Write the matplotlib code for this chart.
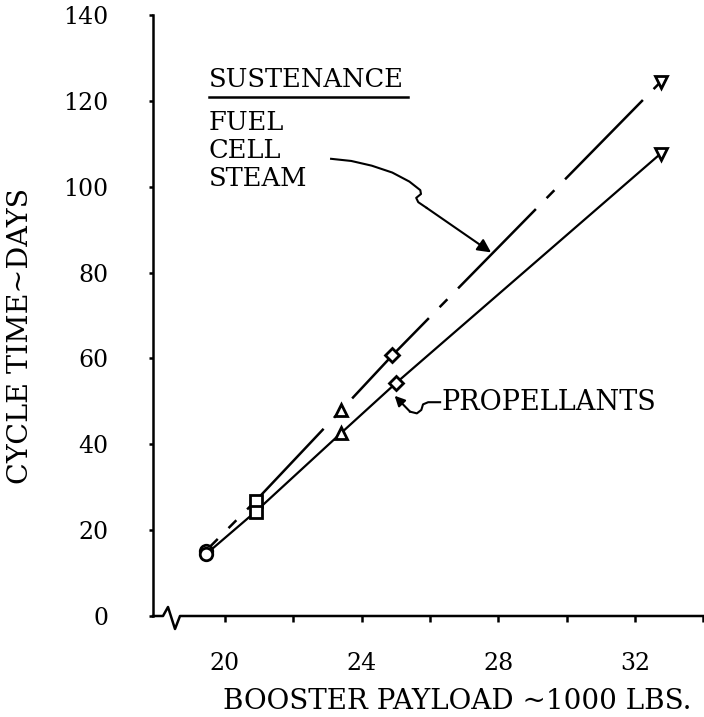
import numpy as np
import matplotlib
matplotlib.use("Agg")
import matplotlib.pyplot as plt

# values
payload_sust = [19.45, 20.9, 23.4, 24.9, 32.75]
days_sust = [15.2, 26.8, 47.9, 60.7, 124.4]
payload_prop = [19.45, 20.9, 23.4, 25.0, 32.75]
days_prop = [14.4, 24.3, 42.6, 54.2, 107.7]
point_markers = ["o", "s", "^", "D", "v"]

x_major = [20, 24, 28, 32]
x_minor = [22, 26, 30, 34]
y_ticks = [0, 20, 40, 60, 80, 100, 120, 140]

plt.rcParams["font.family"] = "DejaVu Serif"
plt.rcParams["lines.scale_dashes"] = False

fig = plt.figure(figsize=(7.04, 7.17), dpi=100)
ax = fig.add_axes([153 / 704, 101 / 717, 551 / 704, 601 / 717])
ax.set_xlim(17.9, 34.02)
ax.set_ylim(0, 140)

# sustenance (long dash - short dash) and propellants (solid)
ax.plot(payload_sust, days_sust, color="black", lw=1.8,
        linestyle=(68, (80, 11, 8, 11)), zorder=2)
ax.plot(payload_prop, days_prop, color="black", lw=1.6, zorder=2)
for xs, ys in [(payload_sust, days_sust), (payload_prop, days_prop)]:
    for x, y, m in zip(xs, ys, point_markers):
        ax.plot(x, y, marker=m, ms=9 if m != "D" else 7.5, mfc="white",
                mec="black", mew=2.0, ls="none", zorder=3)

# axes styling, broken x axis drawn by hand
for s in ["top", "right", "bottom"]:
    ax.spines[s].set_visible(False)
ax.spines["left"].set_linewidth(1.8)
w, h = 551.0, 601.0
zx = [0, 10 / w, 15 / w, 22 / w, 27 / w, 1]
zy = [0, 0, 9 / h, -13 / h, 0, 0]
ax.plot(zx, zy, color="black", lw=1.8, transform=ax.transAxes, clip_on=False)

ax.set_xticks(x_major)
ax.set_xticks(x_minor, minor=True)
ax.set_yticks(y_ticks)
ax.tick_params(axis="x", which="both", direction="out", length=4, width=1.8,
               pad=22, labelsize=17)
ax.tick_params(axis="y", direction="out", length=3, width=1.8, pad=29,
               labelsize=17)

ax.set_xlabel("BOOSTER PAYLOAD ~1000 LBS.", fontsize=20)
ax.xaxis.set_label_coords(0.552, -0.119)
ax.set_ylabel("CYCLE TIME~DAYS", fontsize=20.5)
ax.yaxis.set_label_coords(-0.216, 0.466)

# annotations
ax.text(19.53, 125.0, "SUSTENANCE", fontsize=18.5, va="center", ha="left")
ax.plot([19.53, 25.35], [120.9, 120.9], color="black", lw=1.8)
ax.text(19.53, 114.9, "FUEL", fontsize=18.5, va="center", ha="left")
ax.text(19.53, 108.4, "CELL", fontsize=18.5, va="center", ha="left")
ax.text(19.53, 101.9, "STEAM", fontsize=18.5, va="center", ha="left")
sx = [23.11, 23.7, 24.3, 24.9, 25.4, 25.72, 25.74, 25.6, 25.66, 25.9]
sy = [106.5, 106.0, 104.9, 103.3, 101.2, 99.2, 98.3, 97.4, 96.4, 95.1]
ax.plot(sx, sy, color="black", lw=1.5)
ax.annotate("", xy=(27.79, 84.7), xytext=(sx[-1], sy[-1]),
            arrowprops=dict(arrowstyle="-|>", color="black", lw=1.5,
                            mutation_scale=20, shrinkA=0, shrinkB=0))

ax.text(26.35, 49.8, "PROPELLANTS", fontsize=19.5, va="center", ha="left")
px = [26.3, 25.95, 25.8, 25.75, 25.62, 25.42]
py = [49.8, 49.8, 49.3, 48.0, 47.2, 47.6]
ax.plot(px, py, color="black", lw=1.5)
ax.annotate("", xy=(24.97, 51.3), xytext=(px[-1], py[-1]),
            arrowprops=dict(arrowstyle="-|>", color="black", lw=1.5,
                            mutation_scale=15, shrinkA=0, shrinkB=0))

fig.savefig("out.png", dpi=100)
